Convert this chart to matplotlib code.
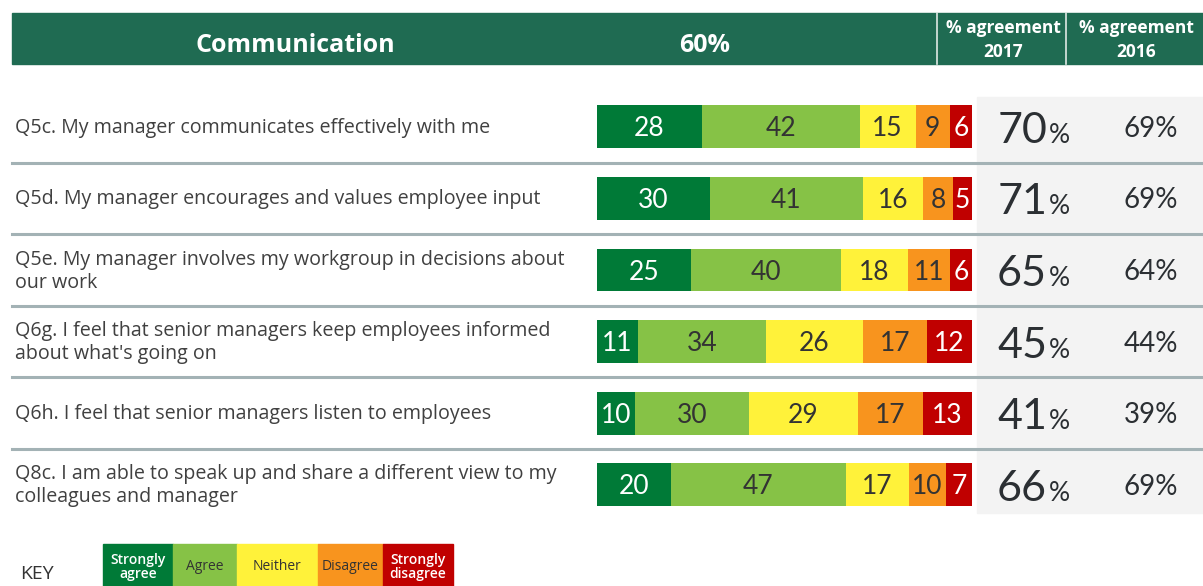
import matplotlib
matplotlib.use("Agg")
import matplotlib.pyplot as plt
from matplotlib.patches import Rectangle

# ---- data ----
questions = [
    "Q5c. My manager communicates effectively with me",
    "Q5d. My manager encourages and values employee input",
    "Q5e. My manager involves my workgroup in decisions about\nour work",
    "Q6g. I feel that senior managers keep employees informed\nabout what's going on",
    "Q6h. I feel that senior managers listen to employees",
    "Q8c. I am able to speak up and share a different view to my\ncolleagues and manager",
]
strongly_agree = [28, 30, 25, 11, 10, 20]
agree = [42, 41, 40, 34, 30, 47]
neither = [15, 16, 18, 26, 29, 17]
disagree = [9, 8, 11, 17, 17, 10]
strongly_disagree = [6, 5, 6, 12, 13, 7]
agreement_2017 = [70, 71, 65, 45, 41, 66]
agreement_2016 = [69, 69, 64, 44, 39, 69]
categories = ["Strongly\nagree", "Agree", "Neither", "Disagree", "Strongly\ndisagree"]
theme_title = "Communication"
theme_score = "60%"
col_2017 = "% agreement\n2017"
col_2016 = "% agreement\n2016"

colors = ["#007a37", "#86c246", "#fff23a", "#f8941e", "#c00000"]
text_colors = ["white", "#333333", "#333333", "#333333", "white"]
header_green = "#1f6b52"
FONT = "Lato"
LABEL_FONT = "Open Sans"
HEAD_FONT = ["Liberation Sans Narrow", "Open Sans"]

W, H = 1203, 586
fig = plt.figure(figsize=(W / 100, H / 100), dpi=100)

# decor axes in pixel coordinates
ax = fig.add_axes([0, 0, 1, 1])
ax.set_xlim(0, W)
ax.set_ylim(H, 0)
ax.axis("off")

# header
ax.add_patch(Rectangle((12, 13), W - 12, 51, color=header_green, zorder=1))
for xd in (937, 1066):
    ax.plot([xd, xd], [13, 64], color="#dfe9e4", lw=1.2, zorder=2)
ax.text(295, 45, theme_title, color="white", fontsize=18, fontweight="bold",
        family=HEAD_FONT, ha="center", va="center")
ax.text(705, 45, theme_score, color="white", fontsize=18, fontweight="bold",
        family=HEAD_FONT, ha="center", va="center")
ax.text(1003, 40, col_2017, color="white", fontsize=12.5, fontweight="bold",
        family=HEAD_FONT, ha="center", va="center", linespacing=1.45)
ax.text(1136, 40, col_2016, color="white", fontsize=12.5, fontweight="bold",
        family=HEAD_FONT, ha="center", va="center", linespacing=1.45)

# grey panel for agreement columns
ax.add_patch(Rectangle((977, 97), W - 977, 416, color="#f3f3f3", zorder=0))

n = len(questions)
top, step = 91, 71.6
centers = [top + step * (i + 0.5) for i in range(n)]

# separators
for i in range(1, n):
    y = top + step * i
    ax.plot([12, W], [y, y], color="#a3b2b5", lw=2.2, zorder=3)

# labels and agreement numbers
for i, q in enumerate(questions):
    cy = centers[i]
    ax.text(15, cy + 1, q, color="#404040", fontsize=14.1, family=LABEL_FONT,
            ha="left", va="center", linespacing=1.2)
    ax.text(1047, cy + 16, f"{agreement_2017[i]}", color="#2b2f33", fontsize=31,
            family=FONT, ha="right", va="baseline")
    ax.text(1049, cy + 16, "%", color="#2b2f33", fontsize=19, family=FONT,
            ha="left", va="baseline")
    ax.text(1151, cy + 10, f"{agreement_2016[i]}%", color="#2b2f33", fontsize=20,
            family=FONT, ha="center", va="baseline")

# bar axes (each row drawn as share of its total, filling the bar)
bx = fig.add_axes([597 / W, 1 - (top + step * n) / H, 375 / W, step * n / H])
bx.set_xlim(0, 100)
bx.set_ylim(n - 0.5, -0.5)
bx.axis("off")
series = [strongly_agree, agree, neither, disagree, strongly_disagree]
totals = [sum(s[i] for s in series) for i in range(n)]
left = [0.0] * n
for k, vals in enumerate(series):
    widths = [v * 100.0 / totals[i] for i, v in enumerate(vals)]
    bx.barh(range(n), widths, left=left, height=0.6, color=colors[k], edgecolor="none")
    for i, v in enumerate(vals):
        bx.text(left[i] + widths[i] / 2, i + 0.135, str(v), color=text_colors[k],
                fontsize=19, family=FONT, ha="center", va="baseline")
    left = [l + w for l, w in zip(left, widths)]

# key
ax.text(20, 574, "KEY", color="#333333", fontsize=14, family=LABEL_FONT,
        ha="left", va="center")
key_edges = [103, 173, 237, 318, 383, 453]
for k, lab in enumerate(categories):
    x0, x1 = key_edges[k], key_edges[k + 1]
    ax.add_patch(Rectangle((x0, 544), x1 - x0, 50, color=colors[k], zorder=1))
    ax.text((x0 + x1) / 2, 567, lab, color=text_colors[k] if k in (0, 4) else "#333333",
            fontsize=10, family=LABEL_FONT, ha="center", va="center", linespacing=1.0,
            fontweight="semibold" if k in (0, 4) else "normal")

fig.savefig("out.png", dpi=100)
